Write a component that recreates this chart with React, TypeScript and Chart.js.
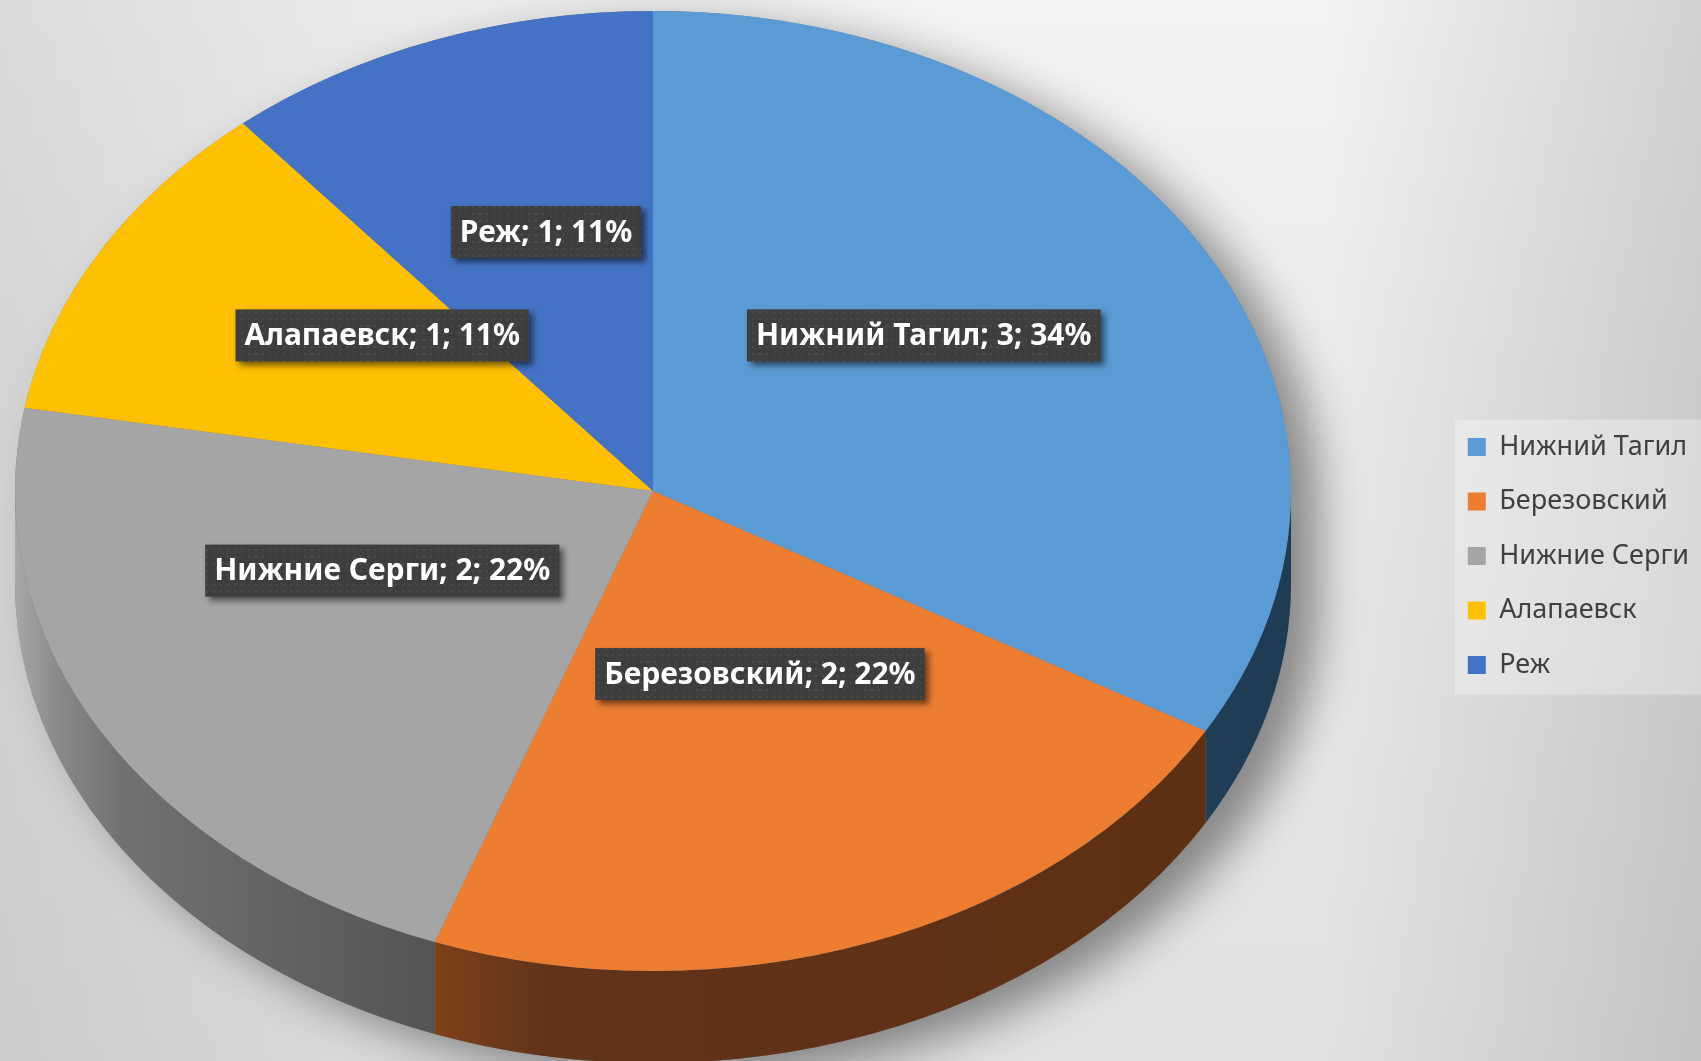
import React, { useEffect, useRef } from 'react';
import { Chart, registerables } from 'chart.js';
Chart.register(...registerables);

const categories = ['Нижний Тагил', 'Березовский', 'Нижние Серги', 'Алапаевск', 'Реж'];
const values = [3, 2, 2, 1, 1];
const percentLabels = ['34%', '22%', '22%', '11%', '11%'];
const topColors = ['#5B9BD5', '#ED7D31', '#A5A5A5', '#FFC000', '#4472C4'];
const sideStops: [number, string][][] = [
  [[0, '#213e57'], [1, '#1f3b53']],
  [[0, '#7c4119'], [0.15, '#62321a'], [1, '#5e3013']],
  [[0, '#a8a8a8'], [0.1, '#8a8a8a'], [0.25, '#727272'], [1, '#545454']],
  [[0, '#8a6b00'], [1, '#6e5500']],
  [[0, '#2b4a80'], [1, '#223c68']],
];

const W = 1701;
const H = 1061;
const CX = 653;
const CY = 491;
const RX = 638;
const RY = 480;
const DEPTH = 92;
const LABEL_F = 0.49;
const LABEL_DY = 38;

function makePattern(ctx: CanvasRenderingContext2D) {
  const c = document.createElement('canvas');
  c.width = 7;
  c.height = 7;
  const p = c.getContext('2d')!;
  p.fillStyle = '#3e3e3e';
  p.fillRect(0, 0, 7, 7);
  p.fillStyle = '#4b4b4b';
  p.fillRect(3, 3, 2, 2);
  return ctx.createPattern(c, 'repeat');
}

const pie3dPlugin = {
  id: 'pie3d',
  beforeDraw(chart: any) {
    const ctx: CanvasRenderingContext2D = chart.ctx;
    ctx.save();
    const g = ctx.createLinearGradient(0, 0, W, 0);
    g.addColorStop(0, '#dbdbdb');
    g.addColorStop(0.2, '#e9e9e9');
    g.addColorStop(0.55, '#f2f2f2');
    g.addColorStop(0.78, '#f2f2f2');
    g.addColorStop(1, '#d2d2d2');
    ctx.fillStyle = g;
    ctx.fillRect(0, 0, W, H);
    const v = ctx.createLinearGradient(0, 0, 0, H);
    v.addColorStop(0, 'rgba(0,0,0,0)');
    v.addColorStop(0.35, 'rgba(0,0,0,0.03)');
    v.addColorStop(1, 'rgba(0,0,0,0.07)');
    ctx.fillStyle = v;
    ctx.fillRect(0, 0, W, H);
    // legend background
    const lg = chart.legend;
    if (lg && lg.legendHitBoxes && lg.legendHitBoxes.length) {
      const hb = lg.legendHitBoxes;
      const first = hb[0];
      const last = hb[hb.length - 1];
      ctx.fillStyle = 'rgba(255,255,255,0.3)';
      const x0 = first.left - 13;
      const y0 = first.top - 14;
      ctx.fillRect(x0, y0, W - x0, last.top + last.height + 16 - y0);
    }
    ctx.restore();
  },
  beforeDatasetsDraw(chart: any) {
    const ctx: CanvasRenderingContext2D = chart.ctx;
    const meta = chart.getDatasetMeta(0);
    const a0 = meta.data[0];
    const { x: ccx, y: ccy, outerRadius: r } = a0.getProps(['x', 'y', 'outerRadius'], true);
    const s = RY / r;
    ctx.save();
    ctx.translate(CX, CY);
    ctx.scale(1, s);
    ctx.translate(-ccx, -ccy);
    const d = DEPTH / s;
    // drop shadow of the whole pie
    ctx.save();
    ctx.shadowColor = 'rgba(0,0,0,0.42)';
    ctx.shadowBlur = 45;
    ctx.shadowOffsetX = 28;
    ctx.shadowOffsetY = 16;
    ctx.fillStyle = '#777';
    ctx.beginPath();
    ctx.arc(ccx, ccy, r, Math.PI, 0);
    ctx.arc(ccx, ccy + d, r, 0, Math.PI);
    ctx.closePath();
    ctx.fill();
    ctx.restore();
    // side walls
    meta.data.forEach((arc: any, i: number) => {
      const { startAngle, endAngle } = arc.getProps(['startAngle', 'endAngle'], true);
      for (let k = -1; k <= 1; k++) {
        const lo = Math.max(startAngle, 2 * Math.PI * k);
        const hi = Math.min(endAngle, 2 * Math.PI * k + Math.PI);
        if (hi <= lo) continue;
        const xl = ccx + r * Math.cos(hi);
        const xr = ccx + r * Math.cos(lo);
        const grad = ctx.createLinearGradient(xl, 0, xr + 0.01, 0);
        sideStops[i].forEach(([o, c]) => grad.addColorStop(o, c));
        ctx.fillStyle = grad;
        ctx.beginPath();
        ctx.arc(ccx, ccy, r, lo, hi);
        ctx.arc(ccx, ccy + d, r, hi, lo, true);
        ctx.closePath();
        ctx.fill();
      }
    });
  },
  afterDatasetsDraw(chart: any) {
    const ctx: CanvasRenderingContext2D = chart.ctx;
    ctx.restore();
    const meta = chart.getDatasetMeta(0);
    const pattern = makePattern(ctx);
    ctx.save();
    ctx.font = 'bold 30px "Noto Sans"';
    meta.data.forEach((arc: any, i: number) => {
      const { startAngle, endAngle, outerRadius } = arc.getProps(['startAngle', 'endAngle', 'outerRadius'], true);
      const s = RY / outerRadius;
      const mid = (startAngle + endAngle) / 2;
      const x = CX + Math.cos(mid) * outerRadius * LABEL_F;
      const y = CY + Math.sin(mid) * outerRadius * s * LABEL_F - LABEL_DY;
      const text = `${categories[i]}; ${values[i]}; ${percentLabels[i]}`;
      const tw = ctx.measureText(text).width;
      const bw = tw + 18;
      const bh = 52;
      ctx.save();
      ctx.shadowColor = 'rgba(0,0,0,0.55)';
      ctx.shadowBlur = 6;
      ctx.shadowOffsetX = 4;
      ctx.shadowOffsetY = 4;
      ctx.fillStyle = pattern || '#404040';
      ctx.fillRect(x - bw / 2, y - bh / 2, bw, bh);
      ctx.restore();
      ctx.fillStyle = '#ffffff';
      ctx.textAlign = 'center';
      ctx.textBaseline = 'middle';
      ctx.fillText(text, x, y + 1);
    });
    ctx.restore();
  },
};

export default function App() {
  const ref = useRef<HTMLCanvasElement>(null);
  useEffect(() => {
    document.body.style.margin = '0';
    const canvas = ref.current!;
    const chart = new Chart(canvas, {
      type: 'pie',
      data: {
        labels: categories,
        datasets: [
          {
            data: values,
            backgroundColor: topColors,
            borderWidth: 0,
            radius: RX,
            clip: false,
          } as any,
        ],
      },
      options: {
        responsive: false,
        animation: false,
        events: [],
        layout: { padding: { top: 51, bottom: 0, left: 0, right: 2 } },
        plugins: {
          legend: {
            position: 'right',
            labels: {
              boxWidth: 18,
              boxHeight: 18,
              padding: 27.5,
              color: '#404040',
              font: { family: '"Noto Sans"', size: 27 },
            },
          },
          tooltip: { enabled: false },
        },
      } as any,
      plugins: [pie3dPlugin as any],
    });
    return () => chart.destroy();
  }, []);
  return (
    <div style={{ position: 'fixed', left: 0, top: 0, width: W, height: H }}>
      <canvas ref={ref} width={W} height={H} style={{ width: W, height: H, display: 'block' }} />
    </div>
  );
}
